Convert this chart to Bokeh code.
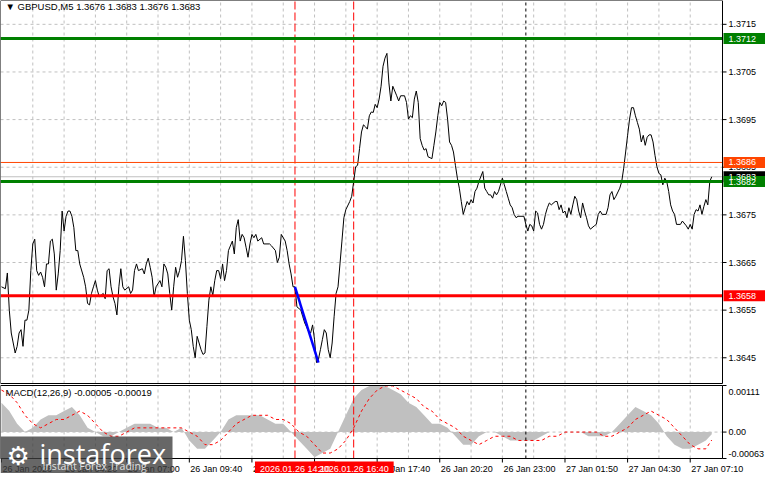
from bokeh.plotting import figure
from bokeh.models import Range1d
from bokeh.embed import file_html
from bokeh.resources import INLINE
from bokeh.core.properties import value

# ---------------- data ----------------
bars = [0, 2, 3, 4, 5, 7, 8, 9, 10, 11, 12, 13, 14, 15, 16, 17, 18, 19, 20, 21, 22, 23, 24, 25, 26, 27, 28, 29, 30,
        31, 32, 33, 34, 35, 36, 37, 38, 39, 40, 42, 43, 44, 45, 46, 47, 48, 49, 50, 52, 53, 54, 55, 56, 57, 58, 59,
        60, 61, 62, 63, 65, 66, 67, 68, 69, 70, 72, 73, 74, 75, 76, 77, 78, 79, 81, 82, 83, 84, 85, 86, 87, 88, 89,
        90, 91, 92, 93, 94, 95, 96, 97, 98, 99, 100, 101, 102, 103, 104, 105, 106, 107, 108, 109, 110, 111, 112,
        113, 114, 115, 116, 118, 119, 120, 121, 122, 123, 124, 125, 126, 127, 128, 129, 130, 131, 133, 134, 137,
        138, 140, 141, 142, 143, 145, 146, 147, 148, 149, 150, 151, 153, 154, 155, 157, 158, 159, 160, 161, 162,
        163, 164, 165, 166, 167, 168, 169, 170, 171, 172, 173, 174, 175, 176, 178, 179, 180, 181, 182, 183, 184,
        185, 186, 187, 188, 189, 190, 191, 192, 193, 194, 195, 196, 197, 198, 199, 200, 201, 202, 203, 204, 206,
        207, 208, 209, 210, 211, 212, 213, 214, 215, 216, 217, 218, 220, 221, 222, 223, 224, 225, 226, 227, 228,
        229, 230, 231, 232, 233, 234, 235, 236, 237, 238, 239, 240, 241, 242, 243, 244, 246, 247, 248, 249, 250,
        251, 252, 253, 254, 256, 257, 258, 259, 260, 261, 262, 263, 264, 267, 268, 269, 270, 271, 272, 273, 274,
        275, 276, 277, 278, 279, 280, 281, 283, 284, 285, 286, 287, 288, 289, 290, 291, 292, 293, 294, 295, 296,
        297, 298, 299, 300, 301, 303, 304, 305, 306, 307, 309, 310, 311, 312, 313, 314, 316, 317, 318, 319, 320,
        321, 322, 323, 324, 325, 326, 327, 328, 329, 330, 331, 332, 333, 334, 335, 336, 337, 338, 339, 340, 341,
        342, 343, 344, 345, 347, 348, 350, 351, 352, 353, 354, 355, 356, 357, 358, 359, 360, 361, 362, 363]
closes = [1.36599, 1.36595, 1.36628, 1.36550, 1.36502, 1.36460, 1.36474, 1.36502, 1.36509, 1.36474, 1.36529,
          1.36529, 1.36550, 1.36633, 1.36689, 1.36699, 1.36633, 1.36623, 1.36630, 1.36619, 1.36599, 1.36647,
          1.36647, 1.36695, 1.36699, 1.36668, 1.36592, 1.36626, 1.36675, 1.36758, 1.36716, 1.36747, 1.36758,
          1.36758, 1.36747, 1.36723, 1.36675, 1.36675, 1.36647, 1.36619, 1.36599, 1.36564, 1.36561, 1.36585,
          1.36599, 1.36612, 1.36592, 1.36578, 1.36585, 1.36574, 1.36633, 1.36637, 1.36599, 1.36578, 1.36564,
          1.36540, 1.36599, 1.36637, 1.36599, 1.36592, 1.36599, 1.36585, 1.36592, 1.36633, 1.36647, 1.36633,
          1.36637, 1.36626, 1.36647, 1.36659, 1.36640, 1.36619, 1.36578, 1.36599, 1.36612, 1.36599, 1.36647,
          1.36640, 1.36626, 1.36585, 1.36550, 1.36599, 1.36640, 1.36619, 1.36633, 1.36654, 1.36705, 1.36654,
          1.36585, 1.36529, 1.36509, 1.36474, 1.36450, 1.36495, 1.36481, 1.36467, 1.36457, 1.36460, 1.36516,
          1.36571, 1.36599, 1.36581, 1.36612, 1.36633, 1.36633, 1.36616, 1.36647, 1.36612, 1.36633, 1.36675,
          1.36695, 1.36668, 1.36723, 1.36740, 1.36695, 1.36709, 1.36702, 1.36682, 1.36661, 1.36689, 1.36709,
          1.36702, 1.36709, 1.36695, 1.36702, 1.36689, 1.36689, 1.36685, 1.36675, 1.36650, 1.36661, 1.36709,
          1.36695, 1.36675, 1.36647, 1.36626, 1.36599, 1.36599, 1.36557, 1.36550, 1.36536, 1.36523, 1.36505,
          1.36502, 1.36519, 1.36488, 1.36440, 1.36447, 1.36467, 1.36488, 1.36509, 1.36502, 1.36467, 1.36450,
          1.36481, 1.36536, 1.36585, 1.36599, 1.36647, 1.36695, 1.36744, 1.36761, 1.36778, 1.36789, 1.36820,
          1.36851, 1.36854, 1.36889, 1.36924, 1.36939, 1.36935, 1.36930, 1.36958, 1.36966, 1.36965, 1.36982,
          1.36975, 1.36993, 1.37020, 1.37062, 1.37079, 1.37089, 1.37027, 1.36989, 1.37020, 1.37010, 1.37000,
          1.36989, 1.37000, 1.37000, 1.36986, 1.36951, 1.36958, 1.36954, 1.36993, 1.37010, 1.36986, 1.36910,
          1.36896, 1.36886, 1.36889, 1.36872, 1.36868, 1.36896, 1.36924, 1.36958, 1.36986, 1.36979, 1.36989,
          1.36986, 1.36951, 1.36903, 1.36896, 1.36882, 1.36854, 1.36827, 1.36806, 1.36778, 1.36751, 1.36765,
          1.36778, 1.36771, 1.36782, 1.36775, 1.36799, 1.36806, 1.36820, 1.36841, 1.36806, 1.36799, 1.36792,
          1.36792, 1.36785, 1.36799, 1.36792, 1.36799, 1.36827, 1.36813, 1.36799, 1.36785, 1.36771, 1.36765,
          1.36751, 1.36744, 1.36747, 1.36747, 1.36730, 1.36716, 1.36730, 1.36727, 1.36716, 1.36758, 1.36754,
          1.36730, 1.36720, 1.36730, 1.36751, 1.36765, 1.36775, 1.36771, 1.36778, 1.36778, 1.36761, 1.36771,
          1.36754, 1.36758, 1.36744, 1.36765, 1.36751, 1.36771, 1.36789, 1.36782, 1.36758, 1.36744, 1.36775,
          1.36758, 1.36744, 1.36727, 1.36720, 1.36727, 1.36730, 1.36751, 1.36758, 1.36751, 1.36751, 1.36765,
          1.36792, 1.36799, 1.36782, 1.36789, 1.36806, 1.36820, 1.36848, 1.36882, 1.36917, 1.36951, 1.36975,
          1.36975, 1.36958, 1.36944, 1.36930, 1.36903, 1.36917, 1.36896, 1.36913, 1.36918, 1.36918, 1.36903,
          1.36875, 1.36851, 1.36837, 1.36834, 1.36813, 1.36827, 1.36820, 1.36799, 1.36771, 1.36758, 1.36751,
          1.36730, 1.36730, 1.36737, 1.36727, 1.36720, 1.36730, 1.36720, 1.36751, 1.36761, 1.36758, 1.36771,
          1.36751, 1.36768, 1.36782, 1.36771, 1.36820, 1.36830]

trend_bars = [150, 162]
trend_prices = [1.36599, 1.36440]

level_green_top = 1.3712
level_orange = 1.3686
level_current = 1.3683
level_green = 1.3682
level_red = 1.3658

marker_bars = [150, 180]
marker_labels = ["2026.01.26 14:10", "2026.01.26 16:40"]
day_separator_bar = 268

price_ticks = [1.3645, 1.3655, 1.3665, 1.3675, 1.3685, 1.3695, 1.3705, 1.3715]
price_tick_labels = ["1.3645", "1.3655", "1.3665", "1.3675", "1.3685", "1.3695", "1.3705", "1.3715"]
grid_bars = [16, 32, 48, 64, 80, 96, 112, 128, 144, 160, 176, 192, 208, 224, 240, 256, 272, 288, 304,
             320, 336, 352]
time_tick_bars = [0, 32, 64, 96, 128, 160, 192, 224, 256, 288, 320, 352]
time_tick_labels = ["26 Jan 2026", "26 Jan 04:20", "26 Jan 07:00", "26 Jan 09:40", "26 Jan 12:20",
                    "26 Jan 15:00", "26 Jan 17:40", "26 Jan 20:20", "26 Jan 23:00", "27 Jan 01:50",
                    "27 Jan 04:30", "27 Jan 07:10"]
macd_ticks = [0.00111, 0.0, -0.00063]
macd_tick_labels = ["0.00111", "0.00", "-0.00063"]

macd_bars = [0, 4, 8, 12, 16, 20, 24, 28, 32, 36, 40, 44, 48, 52, 56, 60, 64, 68, 72, 76, 80, 84, 88, 92, 96,
             100, 104, 108, 112, 116, 120, 124, 128, 132, 136, 140, 144, 148, 152, 156, 160, 164, 168, 172, 176,
             180, 184, 188, 192, 196, 200, 204, 208, 212, 216, 220, 224, 228, 232, 236, 240, 244, 248, 252, 256,
             260, 264, 268, 272, 276, 280, 284, 288, 292, 296, 300, 304, 308, 312, 316, 320, 324, 328, 332, 336,
             340, 344, 348, 352, 356, 360, 363]
macd_main = [0.0007, 0.0005, 0.0002, 0.0000, 0.0001, 0.0003, 0.0004, 0.0004, 0.0005, 0.0006, 0.0004, 0.0001,
             0.0000, -0.0001, -0.0001, 0.0000, 0.0001, 0.0002, 0.0002, 0.0002, 0.0001, 0.0001, 0.0000, 0.0001,
             -0.0002, -0.0004, -0.0004, -0.0002, 0.0000, 0.0003, 0.0004, 0.0004, 0.0004, 0.0004, 0.0003, 0.0002,
             0.0002, 0.0000, -0.0002, -0.0004, -0.0006, -0.0005, -0.0004, 0.0000, 0.0004, 0.0008, 0.0010,
             0.0011, 0.0011, 0.0011, 0.0010, 0.0009, 0.0007, 0.0006, 0.0004, 0.0002, 0.0002, 0.0001, -0.0001,
             -0.0003, -0.0003, -0.0001, 0.0000, 0.0000, -0.0001, -0.0002, -0.0002, -0.0002, -0.0002, -0.0001,
             0.0000, 0.0000, 0.0000, 0.0000, 0.0000, -0.0001, -0.0001, -0.0001, 0.0000, 0.0002, 0.0004, 0.0006,
             0.0005, 0.0004, 0.0002, -0.0001, -0.0003, -0.0004, -0.0004, -0.0003, -0.0002, -0.00005]
macd_signal = [0.0010, 0.0009, 0.0007, 0.0004, 0.0002, 0.0001, 0.0002, 0.0003, 0.0003, 0.0004, 0.0005, 0.0004,
               0.0002, 0.0000, -0.0001, -0.0001, 0.0000, 0.0001, 0.0001, 0.0001, 0.0001, 0.0001, 0.0001, 0.0001,
               0.0000, -0.0001, -0.0003, -0.0003, -0.0002, 0.0000, 0.0002, 0.0003, 0.0004, 0.0004, 0.0004,
               0.0003, 0.0003, 0.0002, 0.0000, -0.0001, -0.0003, -0.0005, -0.0005, -0.0004, -0.0002, 0.0001,
               0.0005, 0.0008, 0.0010, 0.0011, 0.0011, 0.0010, 0.0009, 0.0008, 0.0006, 0.0005, 0.0003, 0.0002,
               0.0001, -0.0001, -0.0002, -0.0003, -0.0002, -0.0001, -0.0001, -0.0001, -0.0002, -0.0002, -0.0002,
               -0.0002, -0.0001, -0.0001, 0.0000, 0.0000, 0.0000, 0.0000, 0.0000, -0.0001, -0.0001, 0.0000,
               0.0001, 0.0003, 0.0004, 0.0005, 0.0004, 0.0003, 0.0001, -0.0001, -0.0003, -0.0004, -0.0004,
               -0.00019]

title_text = "\u25BC  GBPUSD,M5  1.3676 1.3683 1.3676 1.3683"
macd_title = "MACD(12,26,9) -0.00005 -0.00019"

# ---------------- layout (canvas pixels) ----------------
W, H = 765, 473
FR_L, FR_R = 0, 722           # chart area left/right on the canvas
MAIN_T, MAIN_B = 0, 383       # price panel
MACD_T, MACD_B = 385, 458     # macd panel
X0, X1 = -0.5, 368.5          # visible bars
P_TOP, P_BOT = 1.37200, 1.36396
M_TOP, M_BOT = 0.00111, -0.00063

bpp = (X1 - X0) / (FR_R - FR_L)
ppp = (P_TOP - P_BOT) / (MAIN_B - MAIN_T)
mpp = (M_TOP - M_BOT) / (MACD_B - MACD_T)


def bx(px):
    return X0 + (px - FR_L) * bpp


def py_price(py):
    return P_TOP - (py - MAIN_T) * ppp


def py_macd(py):
    return M_TOP - (py - MACD_T) * mpp


FONT = "Liberation Sans"
FS = value("9px")
GRID = "#C0C0C0"

p = figure(width=W, height=H, x_range=Range1d(bx(0), bx(W)), y_range=Range1d(py_price(H), py_price(0)),
           output_backend="svg", toolbar_location=None, min_border=0,
           x_axis_location=None, y_axis_location=None)
p.extra_y_ranges = {"macd": Range1d(py_macd(H), py_macd(0))}
p.outline_line_color = None
p.grid.visible = False
p.background_fill_color = "white"
p.border_fill_color = "white"

# ----- price panel -----
p.segment(x0=grid_bars, y0=[P_BOT] * len(grid_bars), x1=grid_bars, y1=[P_TOP] * len(grid_bars),
          line_color=GRID, line_dash="3 3", line_width=1)
p.segment(x0=[X0] * len(price_ticks), y0=price_ticks, x1=[X1] * len(price_ticks), y1=price_ticks,
          line_color=GRID, line_dash="3 3", line_width=1)
p.segment(x0=marker_bars, y0=[P_BOT] * 2, x1=marker_bars, y1=[P_TOP] * 2, line_color="red",
          line_dash="8 3", line_width=1)
p.segment(x0=[day_separator_bar], y0=[P_BOT], x1=[day_separator_bar], y1=[P_TOP], line_color="black",
          line_dash="3 3", line_width=1)
p.segment(x0=[X0], y0=[level_current], x1=[X1], y1=[level_current], line_color="#C0C0C0", line_width=1)
p.line(bars, closes, line_color="black", line_width=1)
p.segment(x0=[X0], y0=[level_orange], x1=[X1], y1=[level_orange], line_color="#FF4500", line_width=1)
p.segment(x0=[X0, X0, X0], y0=[level_green_top, level_green, level_red], x1=[X1, X1, X1],
          y1=[level_green_top, level_green, level_red], line_color=["#008000", "#008000", "#FF0000"],
          line_width=3)
p.line(trend_bars, trend_prices, line_color="#0000FF", line_width=2.5)
p.quad(left=[X0], right=[X1], bottom=[P_BOT], top=[P_TOP], fill_color=None, line_color="black", line_width=1)
p.segment(x0=[X1] * len(price_ticks), y0=price_ticks, x1=[bx(FR_R + 4)] * len(price_ticks), y1=price_ticks,
          line_color="black", line_width=1)
p.text(x=[bx(FR_R + 6)] * len(price_ticks), y=price_ticks, text=price_tick_labels, text_font=value(FONT),
       text_font_size=FS, text_color="black", text_align="left", text_baseline="middle")

tag_prices = [level_current, level_green, level_orange, level_green_top, level_red]
tag_colors = ["black", "#008000", "#FF4500", "#008000", "#FF0000"]
half = 5.5 * ppp
p.quad(left=[bx(FR_R + 1)] * 5, right=[bx(W)] * 5, bottom=[v - half for v in tag_prices],
       top=[v + half for v in tag_prices], fill_color=tag_colors, line_color=None)
p.text(x=[bx(FR_R + 6)] * 5, y=tag_prices, text=["%.4f" % v for v in tag_prices], text_font=value(FONT),
       text_font_size=FS, text_color="white", text_align="left", text_baseline="middle")

p.text(x=[bx(FR_L + 5)], y=[py_price(MAIN_T + 6)], text=[title_text], text_font=value(FONT),
       text_font_size=value("9.5px"), text_color="black", text_align="left", text_baseline="middle")

# ----- macd panel -----
R = "macd"
p.segment(x0=grid_bars, y0=[M_BOT] * len(grid_bars), x1=grid_bars, y1=[M_TOP] * len(grid_bars),
          line_color=GRID, line_dash="3 3", line_width=1, y_range_name=R)
p.segment(x0=[X0], y0=[0.0], x1=[X1], y1=[0.0], line_color=GRID, line_dash="3 3", line_width=1,
          y_range_name=R)
p.varea(x=macd_bars, y1=[0.0] * len(macd_bars), y2=macd_main, fill_color="#C0C0C0", y_range_name=R)
p.line(macd_bars, macd_signal, line_color="red", line_dash="3 3", line_width=1, y_range_name=R)
p.segment(x0=marker_bars, y0=[M_BOT] * 2, x1=marker_bars, y1=[M_TOP] * 2, line_color="red",
          line_dash="8 3", line_width=1, y_range_name=R)
p.segment(x0=[day_separator_bar], y0=[M_BOT], x1=[day_separator_bar], y1=[M_TOP], line_color="black",
          line_dash="3 3", line_width=1, y_range_name=R)
p.quad(left=[X0], right=[X1], bottom=[M_BOT], top=[M_TOP], fill_color=None, line_color="black",
       line_width=1, y_range_name=R)
p.segment(x0=[X1] * 3, y0=macd_ticks, x1=[bx(FR_R + 4)] * 3, y1=macd_ticks, line_color="black",
          y_range_name=R)
p.text(x=[bx(FR_R + 6)] * 3, y=[py_macd(MACD_T + 6), 0.0, py_macd(MACD_B - 5)], text=macd_tick_labels,
       text_font=value(FONT), text_font_size=FS, text_color="black", text_align="left",
       text_baseline="middle", y_range_name=R)
p.text(x=[bx(FR_L + 5)], y=[py_macd(MACD_T + 7)], text=[macd_title], text_font=value(FONT),
       text_font_size=value("9.5px"), text_color="black", text_align="left", text_baseline="middle",
       y_range_name=R)

n = len(time_tick_bars)
p.segment(x0=time_tick_bars, y0=[M_BOT] * n, x1=time_tick_bars, y1=[py_macd(MACD_B + 4)] * n,
          line_color="black", y_range_name=R)
p.text(x=[b + bpp for b in time_tick_bars], y=[py_macd(MACD_B + 10)] * n, text=time_tick_labels,
       text_font=value(FONT), text_font_size=FS, text_color="black", text_align="left", text_baseline="middle",
       y_range_name=R)
half_w = 40 * bpp
p.quad(left=[b - half_w for b in marker_bars], right=[b + half_w for b in marker_bars],
       bottom=[py_macd(MACD_B + 17)] * 2, top=[py_macd(MACD_B + 3)] * 2, fill_color="#FF0000",
       line_color=None, y_range_name=R)
p.text(x=marker_bars, y=[py_macd(MACD_B + 10)] * 2, text=marker_labels, text_font=value(FONT),
       text_font_size=FS, text_color="white", text_align="center", text_baseline="middle", y_range_name=R)

# watermark
p.quad(left=[bx(0)], right=[bx(172)], bottom=[py_macd(H)], top=[py_macd(436)], fill_color="#3c3c3c",
       fill_alpha=0.78, line_color=None, y_range_name=R)
p.text(x=[bx(6)], y=[py_macd(455)], text=["\u2699"], text_font=value("DejaVu Sans"),
       text_font_size=value("26px"), text_color="white", text_align="left", text_baseline="alphabetic",
       y_range_name=R)
p.text(x=[bx(39)], y=[py_macd(453)], text=["instaforex"], text_font=value("Open Sans"),
       text_font_size=value("27px"), text_color="white", text_align="left", text_baseline="alphabetic",
       y_range_name=R)
p.text(x=[bx(42)], y=[py_macd(465)], text=["Instant Forex Trading"], text_font=value("Open Sans"),
       text_font_size=value("10.5px"), text_color="#e0e0e0", text_align="left", text_baseline="middle",
       y_range_name=R)

open("out.html", "w").write(file_html(p, INLINE))
